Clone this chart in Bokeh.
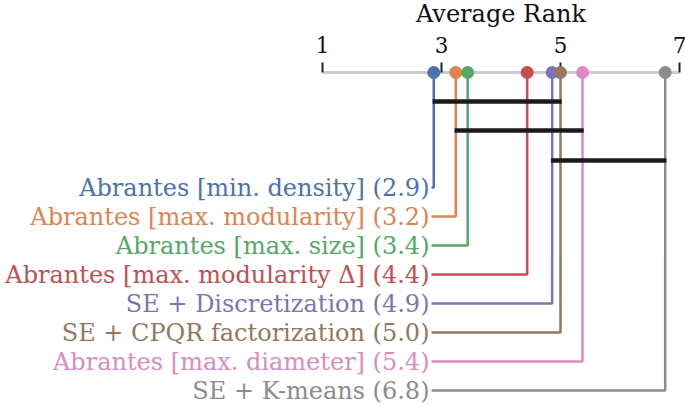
from bokeh.plotting import figure
from bokeh.models import Range1d, ColumnDataSource
from bokeh.core.properties import value
from bokeh.embed import file_html
from bokeh.resources import INLINE

# ---- data ----
methods = [
    "Abrantes [min. density]",
    "Abrantes [max. modularity]",
    "Abrantes [max. size]",
    "Abrantes [max. modularity \u0394]",
    "SE + Discretization",
    "SE + CPQR factorization",
    "Abrantes [max. diameter]",
    "SE + K-means",
]
avg_ranks = [2.87, 3.24, 3.44, 4.44, 4.86, 5.00, 5.37, 6.76]
colors = ["#4C72B0", "#DD8452", "#55A868", "#C44E52",
          "#8172B3", "#937860", "#DA8BC3", "#8C8C8C"]
cliques = [
    ["Abrantes [min. density]", "SE + CPQR factorization"],
    ["Abrantes [max. modularity]", "Abrantes [max. diameter]"],
    ["SE + Discretization", "SE + K-means"],
]
tick_values = [1, 3, 5, 7]
axis_title = "Average Rank"

# ---- layout ----
W, H = 685, 405
px_per_rank = 59.5
left_rank_px = 322  # frame x of rank 1
x0 = 1 - left_rank_px / px_per_rank
x1 = x0 + W / px_per_rank

p = figure(width=W, height=H, output_backend="svg", toolbar_location=None,
           x_range=Range1d(x0, x1), y_range=Range1d(H, 0),
           min_border=0, outline_line_color=None)
p.axis.visible = False
p.grid.visible = False
p.background_fill_color = "white"
p.border_fill_color = "white"

FONT = value("DejaVu Serif")
axis_y = 72
row_y0, row_dy = 187, 29
label_x = 1 + (431 - 322) / px_per_rank  # where connectors start

# axis line
p.segment(x0=[min(tick_values)], x1=[max(tick_values)], y0=[axis_y], y1=[axis_y],
          line_color="#cccccc", line_width=3)
# ticks
p.segment(x0=tick_values, x1=tick_values, y0=[axis_y - 10] * 4, y1=[axis_y] * 4,
          line_color="#222222", line_width=2)
p.text(x=tick_values, y=[44] * len(tick_values), text=[str(t) for t in tick_values],
       text_font=FONT, text_font_size="21.5px", text_align="center",
       text_baseline="middle", text_color="#111111")
p.text(x=[(min(tick_values) + max(tick_values)) / 2], y=[13], text=[axis_title],
       text_font=FONT, text_font_size="24px", text_align="center",
       text_baseline="middle", text_color="#111111")

row_ys = [row_y0 + row_dy * i for i in range(len(methods))]

# connectors
for r, c, yy in zip(avg_ranks, colors, row_ys):
    p.line(x=[label_x, r, r], y=[yy, yy, axis_y], line_color=c, line_width=2.5)

# clique bars
bar_ys = [101, 130, 160]
for cl, by in zip(cliques, bar_ys):
    rs = [avg_ranks[methods.index(m)] for m in cl]
    p.segment(x0=[min(rs) - 0.02], x1=[max(rs) + 0.02], y0=[by], y1=[by],
              line_color="#1a1a1a", line_width=4.5)

# dots
p.scatter(x=avg_ranks, y=[axis_y] * len(avg_ranks), size=13, color=colors,
          line_color=None)

# labels
labels = [f"{m} ({r:.1f})" for m, r in zip(methods, avg_ranks)]
src = ColumnDataSource(dict(x=[label_x] * len(labels), y=row_ys, text=labels, c=colors))
p.text(x="x", y="y", text="text", source=src, text_color="c", x_offset=-2,
       text_font=FONT, text_font_size="24px", text_align="right",
       text_baseline="middle")

open("out.html", "w").write(file_html(p, INLINE))
